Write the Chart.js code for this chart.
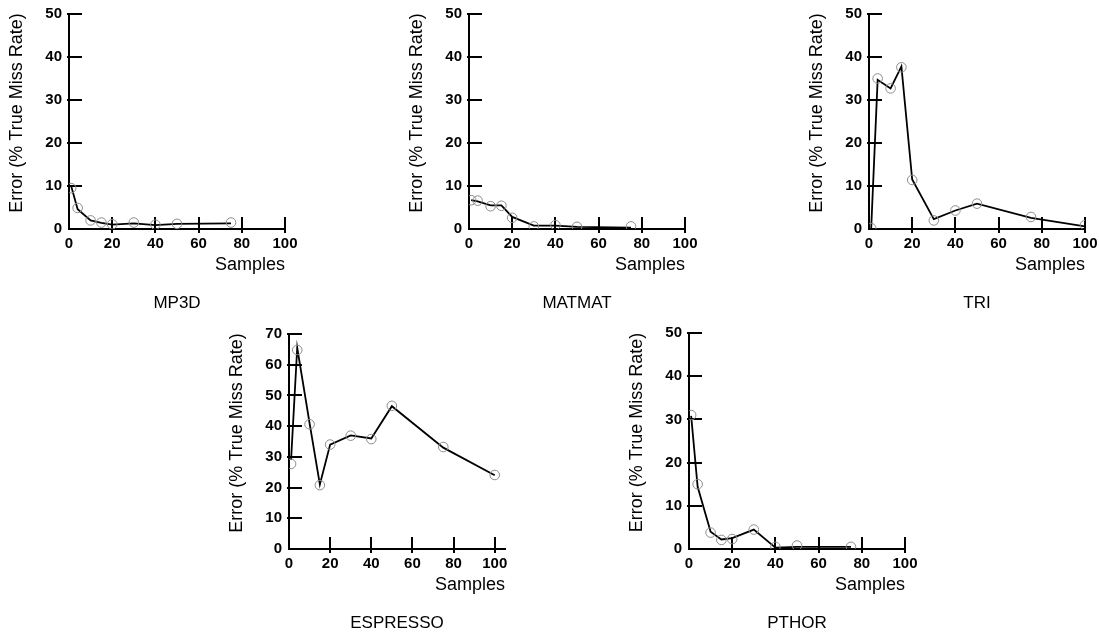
<!DOCTYPE html>
<html>
<head>
<meta charset="utf-8">
<script src="https://cdn.jsdelivr.net/npm/chart.js@4.4.1/dist/chart.umd.min.js"></script>
<style>
  html, body { margin: 0; padding: 0; background: #fff; overflow: hidden; width: 1099px; height: 633px; }
  canvas { position: absolute; }
</style>
</head>
<body>
<canvas id="c1"></canvas>
<canvas id="c2"></canvas>
<canvas id="c3"></canvas>
<canvas id="c4"></canvas>
<canvas id="c5"></canvas>
<script>
// ---------------- data ----------------
const samples = [1, 4, 10, 15, 20, 30, 40, 50, 75, 100];
const xTicks = [0, 20, 40, 60, 80, 100];
const yTicks50 = [0, 10, 20, 30, 40, 50];
const yTicks70 = [0, 10, 20, 30, 40, 50, 60, 70];
const xTitle = 'Samples';
const yTitle = 'Error (% True Miss Rate)';
const chartNames = ['MP3D', 'MATMAT', 'TRI', 'ESPRESSO', 'PTHOR'];

const mp3dLine = [10.0, 4.6, 2.0, 1.4, 1.0, 1.3, 0.9, 1.2, 1.3];
const mp3dMark = [9.5, 4.9, 2.0, 1.5, 1.1, 1.5, 1.0, 1.2, 1.5];

const matmatLine = [6.7, 6.4, 5.5, 5.5, 2.8, 0.8, 0.8, 0.5, 0.3];
const matmatMark = [6.7, 6.6, 5.3, 5.4, 2.6, 0.6, 0.9, 0.5, 0.6];

const triLine = [0.0, 34.7, 32.7, 37.8, 11.5, 2.3, 4.3, 5.9, 2.6, 0.6];
const triMark = [0.2, 35.0, 32.7, 37.6, 11.4, 2.0, 4.3, 5.9, 2.8, 0.9];

const espressoLine = [29.0, 65.5, 41.0, 21.0, 34.0, 37.0, 36.0, 46.5, 33.0, 24.0];
const espressoMark = [27.7, 64.8, 40.6, 20.8, 34.0, 36.9, 35.8, 46.6, 33.2, 24.1];

const pthorLine = [30.8, 14.4, 4.0, 2.2, 2.5, 4.5, 0.3, 0.5, 0.5];
const pthorMark = [31.0, 15.0, 3.8, 2.1, 2.3, 4.5, 0.5, 0.8, 0.5];

// ---------------- layout ----------------
const FONT = '"Liberation Sans", Arial, Helvetica, sans-serif';
Chart.defaults.font.family = FONT;
Chart.defaults.color = '#000';

const PAD = { left: 8, top: 16, right: 19, bottom: 0 };
const Y_AXIS_W = 62, X_AXIS_H = 47, TITLE_H = 36;

const decor = {
  id: 'decor',
  beforeDatasetsDraw(chart) {
    const { ctx, chartArea: a, scales: { x, y } } = chart;
    ctx.save();
    ctx.strokeStyle = '#000';
    ctx.lineWidth = 2;
    ctx.beginPath();
    x.ticks.forEach(t => {
      if (t.value === 0) return;
      const px = Math.round(x.getPixelForValue(t.value));
      ctx.moveTo(px, a.bottom + 4);
      ctx.lineTo(px, a.bottom - 12);
    });
    y.ticks.forEach(t => {
      if (t.value === 0) return;
      const py = Math.round(y.getPixelForValue(t.value));
      ctx.moveTo(a.left - 2, py);
      ctx.lineTo(a.left + 13, py);
    });
    ctx.stroke();
    ctx.restore();
  },
  afterDraw(chart, args, opts) {
    const { ctx, chartArea: a } = chart;
    ctx.save();
    ctx.translate(a.left - 52, (a.top + a.bottom) / 2 - 8.5);
    ctx.rotate(-Math.PI / 2);
    ctx.font = '18px ' + FONT;
    ctx.fillStyle = '#000';
    ctx.textAlign = 'center';
    ctx.textBaseline = 'middle';
    ctx.fillText(opts.text, 0, 0);
    ctx.restore();
  }
};

function pts(vals) {
  return vals.map((v, i) => ({ x: samples[i], y: v }));
}

function makeChart(id, name, lineVals, markVals, yTicks, xMax, L, T, R, B) {
  const cv = document.getElementById(id);
  const x0 = L - PAD.left - Y_AXIS_W, y0 = T - PAD.top;
  const w = (R - L) + PAD.left + Y_AXIS_W + PAD.right;
  const h = (B - T) + PAD.top + X_AXIS_H + TITLE_H + PAD.bottom;
  cv.width = w; cv.height = h;
  cv.style.left = x0 + 'px'; cv.style.top = y0 + 'px';
  cv.style.width = w + 'px'; cv.style.height = h + 'px';
  new Chart(cv, {
    type: 'line',
    data: {
      datasets: [
        {
          data: pts(lineVals),
          borderColor: '#000',
          borderWidth: 1.8,
          pointRadius: 0,
          fill: false,
          tension: 0,
          order: 2
        },
        {
          data: pts(markVals),
          showLine: false,
          pointRadius: 4.8,
          pointBorderWidth: 1,
          pointBorderColor: '#8c8c8c',
          pointBackgroundColor: 'rgba(0,0,0,0)',
          order: 1
        }
      ]
    },
    options: {
      responsive: false,
      animation: false,
      events: [],
      layout: { padding: PAD },
      plugins: {
        legend: { display: false },
        tooltip: { enabled: false },
        title: {
          display: true,
          text: name,
          position: 'bottom',
          fullSize: false,
          color: '#000',
          font: { size: 17, weight: 'normal', lineHeight: 1 },
          padding: { top: 19, bottom: 0 }
        },
        decor: { text: yTitle }
      },
      scales: {
        x: {
          type: 'linear',
          min: 0,
          max: xMax,
          afterBuildTicks: s => { s.ticks = xTicks.map(v => ({ value: v })); },
          afterFit: s => { s.height = X_AXIS_H; },
          grid: { display: false, drawTicks: false },
          border: { display: true, color: '#000', width: 2 },
          ticks: { font: { size: 15, weight: 'bold' }, color: '#000', padding: 6, maxRotation: 0, autoSkip: false },
          title: { display: true, text: xTitle, align: 'end', color: '#000', font: { size: 18 }, padding: 0 }
        },
        y: {
          min: 0,
          max: yTicks[yTicks.length - 1],
          afterBuildTicks: s => { s.ticks = yTicks.map(v => ({ value: v })); },
          afterFit: s => { s.width = Y_AXIS_W; },
          grid: { display: false, drawTicks: false },
          border: { display: true, color: '#000', width: 2 },
          ticks: { font: { size: 15, weight: 'bold' }, color: '#000', padding: 7, autoSkip: false }
        }
      }
    },
    plugins: [decor]
  });
}

makeChart('c1', chartNames[0], mp3dLine, mp3dMark, yTicks50, 100, 69, 14, 285, 229);
makeChart('c2', chartNames[1], matmatLine, matmatMark, yTicks50, 100, 469, 14, 685, 229);
makeChart('c3', chartNames[2], triLine, triMark, yTicks50, 100, 869, 14, 1085, 229);
makeChart('c4', chartNames[3], espressoLine, espressoMark, yTicks70, 105, 289, 334, 505, 549);
makeChart('c5', chartNames[4], pthorLine, pthorMark, yTicks50, 100, 689, 333, 905, 549);
</script>
</body>
</html>
